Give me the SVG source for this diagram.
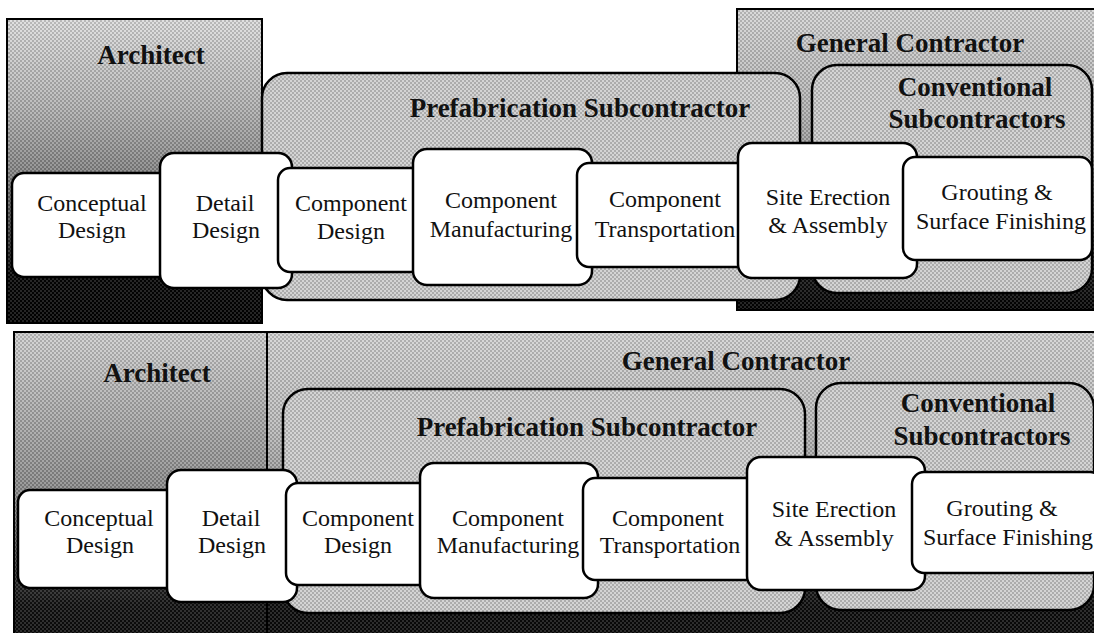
<svg xmlns="http://www.w3.org/2000/svg" width="1094" height="633" viewBox="0 0 1094 633">
<style>
  text { font-family: "Liberation Serif", "Times New Roman", serif; fill: #111; text-anchor: middle; }
  .hdr { font-size: 27px; font-weight: bold; }
  .lbl { font-size: 24px; }
  .frame { stroke: #000; stroke-width: 2; }
  .sub { fill: #cdcdcd; stroke: #000; stroke-width: 2.5; }
  .node { fill: #fff; stroke: #000; stroke-width: 2.5; }
  .tex { fill: url(#dots); stroke: none; }
</style>
<defs>
  <pattern id="dots" width="4" height="4" patternUnits="userSpaceOnUse">
    <rect x="0" y="0" width="2" height="2" fill="#000" opacity="0.16"/>
    <rect x="2" y="2" width="2" height="2" fill="#000" opacity="0.16"/>
    <rect x="2" y="0" width="2" height="2" fill="#fff" opacity="0.14"/>
    <rect x="0" y="2" width="2" height="2" fill="#fff" opacity="0.14"/>
  </pattern>
  <linearGradient id="gArchTop" x1="0" y1="0" x2="0" y2="1">
    <stop offset="0" stop-color="#dcdcdc"/>
    <stop offset="0.28" stop-color="#b4b4b4"/>
    <stop offset="0.5" stop-color="#858585"/>
    <stop offset="0.72" stop-color="#3a3a3a"/>
    <stop offset="0.84" stop-color="#050505"/>
    <stop offset="1" stop-color="#000"/>
  </linearGradient>
  <linearGradient id="gGCTop" x1="0" y1="0" x2="0" y2="1">
    <stop offset="0" stop-color="#d4d4d4"/>
    <stop offset="0.35" stop-color="#b2b2b2"/>
    <stop offset="0.6" stop-color="#7c7c7c"/>
    <stop offset="0.86" stop-color="#151515"/>
    <stop offset="1" stop-color="#000"/>
  </linearGradient>
  <linearGradient id="gArchBot" x1="0" y1="0" x2="0" y2="1">
    <stop offset="0" stop-color="#cfcfcf"/>
    <stop offset="0.35" stop-color="#a0a0a0"/>
    <stop offset="0.55" stop-color="#858585"/>
    <stop offset="0.78" stop-color="#2e2e2e"/>
    <stop offset="0.88" stop-color="#101010"/>
    <stop offset="1" stop-color="#0a0a0a"/>
  </linearGradient>
  <linearGradient id="gGCBot" x1="0" y1="0" x2="0" y2="1">
    <stop offset="0" stop-color="#d2d2d2"/>
    <stop offset="0.3" stop-color="#bdbdbd"/>
    <stop offset="0.55" stop-color="#8e8e8e"/>
    <stop offset="0.78" stop-color="#2a2a2a"/>
    <stop offset="0.88" stop-color="#0c0c0c"/>
    <stop offset="1" stop-color="#080808"/>
  </linearGradient>
</defs>

<!-- ===== Top diagram ===== -->
<g id="top-architect">
  <rect class="frame" x="7" y="19" width="255" height="304" fill="url(#gArchTop)"/>
  <rect class="tex" x="8" y="20" width="253" height="302"/>
  <text class="hdr" x="151" y="64">Architect</text>
</g>
<g id="top-general-contractor">
  <rect class="frame" x="737" y="9" width="370" height="301" fill="url(#gGCTop)"/>
  <rect class="tex" x="738" y="10" width="360" height="299"/>
  <text class="hdr" x="910" y="52">General Contractor</text>
</g>
<g id="top-prefabrication-subcontractor">
  <rect class="sub" x="262" y="73" width="538" height="227" rx="25"/>
  <rect class="tex" x="263" y="74" width="536" height="225" rx="24"/>
  <text class="hdr" x="580" y="117">Prefabrication Subcontractor</text>
</g>
<g id="top-conventional-subcontractors">
  <rect class="sub" x="812" y="65" width="280" height="228" rx="25"/>
  <rect class="tex" x="813" y="66" width="278" height="226" rx="24"/>
  <text class="hdr" x="975" y="96">Conventional</text>
  <text class="hdr" x="977" y="128">Subcontractors</text>
</g>
<g id="top-conceptual-design">
  <rect class="node" x="12" y="173" width="160" height="104" rx="12"/>
  <text class="lbl" x="92" y="211">Conceptual</text>
  <text class="lbl" x="92" y="238">Design</text>
</g>
<g id="top-detail-design">
  <rect class="node" x="160" y="153" width="132" height="135" rx="14"/>
  <text class="lbl" x="225" y="211">Detail</text>
  <text class="lbl" x="226" y="238">Design</text>
</g>
<g id="top-component-design">
  <rect class="node" x="278" y="168" width="145" height="104" rx="12"/>
  <text class="lbl" x="351" y="211">Component</text>
  <text class="lbl" x="351" y="239">Design</text>
</g>
<g id="top-component-manufacturing">
  <rect class="node" x="413" y="149" width="179" height="136" rx="14"/>
  <text class="lbl" x="501" y="208">Component</text>
  <text class="lbl" x="501" y="237">Manufacturing</text>
</g>
<g id="top-component-transportation">
  <rect class="node" x="577" y="163" width="175" height="104" rx="12"/>
  <text class="lbl" x="665" y="207">Component</text>
  <text class="lbl" x="665" y="237">Transportation</text>
</g>
<g id="top-site-erection">
  <rect class="node" x="738" y="143" width="179" height="135" rx="14"/>
  <text class="lbl" x="828" y="205">Site Erection</text>
  <text class="lbl" x="828" y="233">&amp; Assembly</text>
</g>
<g id="top-grouting">
  <rect class="node" x="903" y="157" width="189" height="103" rx="12"/>
  <text class="lbl" x="997" y="200">Grouting &amp;</text>
  <text class="lbl" x="1001" y="229">Surface Finishing</text>
</g>

<!-- ===== Bottom diagram ===== -->
<g id="bottom-architect">
  <rect class="frame" x="14" y="332" width="253" height="310" fill="url(#gArchBot)"/>
  <rect class="tex" x="15" y="333" width="251" height="300"/>
  <text class="hdr" x="157" y="382">Architect</text>
</g>
<g id="bottom-general-contractor">
  <rect class="frame" x="267" y="332" width="840" height="310" fill="url(#gGCBot)"/>
  <rect class="tex" x="268" y="333" width="830" height="300"/>
  <text class="hdr" x="736" y="370">General Contractor</text>
</g>
<g id="bottom-prefabrication-subcontractor">
  <rect class="sub" x="283" y="389" width="522" height="224" rx="25"/>
  <rect class="tex" x="284" y="390" width="520" height="222" rx="24"/>
  <text class="hdr" x="587" y="436">Prefabrication Subcontractor</text>
</g>
<g id="bottom-conventional-subcontractors">
  <rect class="sub" x="816" y="383" width="278" height="227" rx="25"/>
  <rect class="tex" x="817" y="384" width="276" height="225" rx="24"/>
  <text class="hdr" x="978" y="412">Conventional</text>
  <text class="hdr" x="982" y="445">Subcontractors</text>
</g>
<g id="bottom-conceptual-design">
  <rect class="node" x="18" y="490" width="160" height="98" rx="12"/>
  <text class="lbl" x="99" y="526">Conceptual</text>
  <text class="lbl" x="100" y="553">Design</text>
</g>
<g id="bottom-detail-design">
  <rect class="node" x="167" y="470" width="130" height="132" rx="14"/>
  <text class="lbl" x="231" y="526">Detail</text>
  <text class="lbl" x="232" y="553">Design</text>
</g>
<g id="bottom-component-design">
  <rect class="node" x="286" y="483" width="145" height="102" rx="12"/>
  <text class="lbl" x="358" y="526">Component</text>
  <text class="lbl" x="358" y="553">Design</text>
</g>
<g id="bottom-component-manufacturing">
  <rect class="node" x="420" y="463" width="178" height="135" rx="14"/>
  <text class="lbl" x="508" y="526">Component</text>
  <text class="lbl" x="508" y="553">Manufacturing</text>
</g>
<g id="bottom-component-transportation">
  <rect class="node" x="583" y="478" width="175" height="102" rx="12"/>
  <text class="lbl" x="668" y="526">Component</text>
  <text class="lbl" x="670" y="553">Transportation</text>
</g>
<g id="bottom-site-erection">
  <rect class="node" x="747" y="457" width="178" height="133" rx="14"/>
  <text class="lbl" x="834" y="517">Site Erection</text>
  <text class="lbl" x="834" y="546">&amp; Assembly</text>
</g>
<g id="bottom-grouting">
  <rect class="node" x="912" y="472" width="190" height="101" rx="12"/>
  <text class="lbl" x="1002" y="516">Grouting &amp;</text>
  <text class="lbl" x="1008" y="545">Surface Finishing</text>
</g>

<g id="connectors"></g>
</svg>
